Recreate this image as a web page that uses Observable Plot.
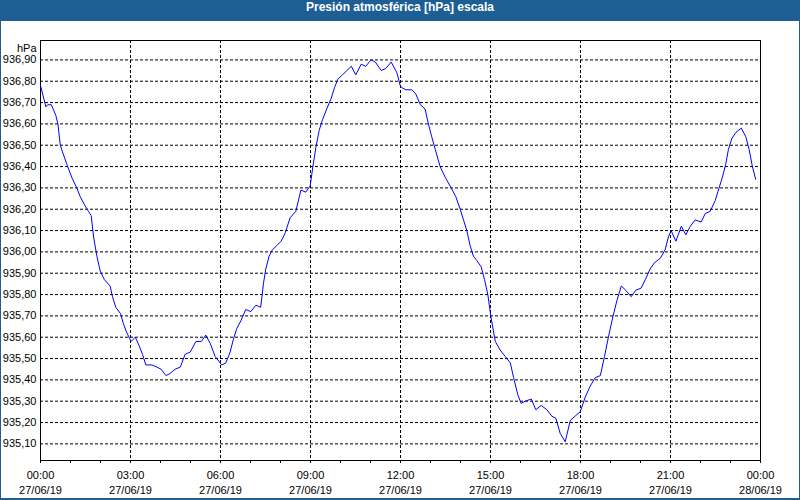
<!DOCTYPE html>
<html><head><meta charset="utf-8">
<script src="https://cdn.jsdelivr.net/npm/d3@7"></script>
<script src="https://cdn.jsdelivr.net/npm/@observablehq/plot@0.6"></script>
<style>
body{margin:0;background:#fff;}
#wrap{position:relative;width:800px;height:500px;overflow:hidden;background:#fff;}
#title{height:21px;line-height:21px;background:#1d5e95;color:#fff;font:bold 12px "Liberation Sans",sans-serif;text-align:center;}
#border{position:absolute;left:0;top:0;width:798px;height:498px;border-left:1px solid #1d5e95;border-right:1px solid #1d5e95;border-bottom:2px solid #1d5e95;pointer-events:none;}
#chart{position:absolute;left:0;top:21px;}
</style></head>
<body>
<div id="wrap">
<div id="title">Presión atmosférica [hPa] escala</div>
<div id="chart"></div>
<div id="border"></div>
</div>
<script>
const title = "Presión atmosférica [hPa] escala";
const unitLabel = "hPa";
// hours since 00:00 27/06/19
const hours = [
0, 0.18, 0.24, 0.36, 0.51, 0.58, 0.66, 0.73, 0.88, 1.04,
1.21, 1.32, 1.47, 1.6, 1.69, 1.77, 1.88, 1.99, 2.13, 2.32,
2.4, 2.51, 2.67, 2.77, 2.88, 3.02, 3.16, 3.29, 3.4, 3.51,
3.71, 3.88, 4.02, 4.18, 4.32, 4.49, 4.66, 4.82, 4.99, 5.18,
5.36, 5.51, 5.66, 5.82, 6.04, 6.18, 6.32, 6.43, 6.54, 6.69,
6.84, 7.01, 7.18, 7.34, 7.43, 7.51, 7.62, 7.73, 7.88, 8.02,
8.16, 8.32, 8.51, 8.68, 8.84, 8.99, 9.08, 9.18, 9.29, 9.4,
9.54, 9.69, 9.8, 9.91, 10.07, 10.21, 10.36, 10.51, 10.69, 10.84,
11.02, 11.16, 11.36, 11.51, 11.69, 11.88, 11.99, 12.04, 12.18, 12.38,
12.51, 12.66, 12.82, 12.93, 13.04, 13.16, 13.32, 13.49, 13.69, 13.84,
13.99, 14.1, 14.21, 14.32, 14.43, 14.54, 14.69, 14.8, 14.91, 15.02,
15.16, 15.32, 15.49, 15.66, 15.77, 15.91, 16.02, 16.16, 16.36, 16.51,
16.69, 16.88, 17.04, 17.18, 17.32, 17.49, 17.66, 17.82, 17.99, 18.16,
18.32, 18.49, 18.66, 18.8, 18.93, 19.07, 19.21, 19.36, 19.51, 19.69,
19.84, 20.02, 20.16, 20.32, 20.47, 20.66, 20.82, 20.93, 21.02, 21.18,
21.36, 21.51, 21.66, 21.82, 22.02, 22.16, 22.32, 22.49, 22.62, 22.73,
22.84, 22.93, 23.04, 23.18, 23.36, 23.51, 23.62, 23.73, 23.84
];
const pressure = [
936.78, 936.68, 936.69, 936.69, 936.64, 936.60, 936.50, 936.47, 936.41, 936.35,
936.30, 936.26, 936.22, 936.19, 936.17, 936.07, 935.98, 935.91, 935.87, 935.84,
935.79, 935.74, 935.71, 935.66, 935.62, 935.58, 935.60, 935.56, 935.52, 935.47,
935.47, 935.46, 935.45, 935.42, 935.43, 935.45, 935.46, 935.52, 935.53, 935.58,
935.58, 935.61, 935.57, 935.51, 935.47, 935.48, 935.53, 935.59, 935.64, 935.68,
935.73, 935.72, 935.75, 935.74, 935.85, 935.92, 935.98, 936.01, 936.03, 936.05,
936.09, 936.16, 936.19, 936.29, 936.28, 936.31, 936.40, 936.49, 936.57, 936.62,
936.67, 936.72, 936.77, 936.81, 936.83, 936.85, 936.87, 936.83, 936.88, 936.87,
936.90, 936.89, 936.85, 936.86, 936.89, 936.84, 936.78, 936.77, 936.76, 936.76,
936.74, 936.69, 936.67, 936.60, 936.54, 936.48, 936.40, 936.35, 936.30, 936.26,
936.20, 936.15, 936.10, 936.03, 935.98, 935.96, 935.93, 935.87, 935.80, 935.69,
935.58, 935.54, 935.51, 935.48, 935.41, 935.33, 935.29, 935.30, 935.31, 935.26,
935.28, 935.26, 935.23, 935.22, 935.15, 935.11, 935.21, 935.23, 935.25, 935.32,
935.37, 935.41, 935.42, 935.51, 935.60, 935.69, 935.77, 935.84, 935.82, 935.79,
935.82, 935.83, 935.87, 935.92, 935.95, 935.97, 936.01, 936.07, 936.10, 936.05,
936.12, 936.08, 936.12, 936.15, 936.14, 936.18, 936.19, 936.24, 936.30, 936.35,
936.41, 936.48, 936.53, 936.56, 936.58, 936.54, 936.48, 936.40, 936.34
];
const yTicks = [935.1, 935.2, 935.3, 935.4, 935.5, 935.6, 935.7, 935.8, 935.9, 936.0, 936.1, 936.2, 936.3, 936.4, 936.5, 936.6, 936.7, 936.8, 936.9];
const xTickHours = [0, 3, 6, 9, 12, 15, 18, 21, 24];
const xTickLabels = ["00:00\n27/06/19", "03:00\n27/06/19", "06:00\n27/06/19", "09:00\n27/06/19", "12:00\n27/06/19", "15:00\n27/06/19", "18:00\n27/06/19", "21:00\n27/06/19", "00:00\n28/06/19"];
const xGridHours = [3, 6, 9, 12, 15, 18, 21];
const xMinorHours = d3.range(0, 25);

const data = hours.map((h, i) => ({h, p: pressure[i]}));
const labelOf = new Map(xTickHours.map((h, i) => [h, xTickLabels[i]]));

const plot = Plot.plot({
  width: 800,
  height: 479,
  marginTop: 19,
  marginBottom: 40,
  marginLeft: 40,
  marginRight: 40,
  style: {fontFamily: "Liberation Sans, sans-serif", fontSize: "11px", color: "black", background: "white"},
  x: {type: "linear", domain: [0, 24]},
  y: {domain: [935.022, 936.991]},
  marks: [
    Plot.gridY(yTicks, {stroke: "black", strokeOpacity: 1, strokeDasharray: "3,2"}),
    Plot.gridX(xGridHours, {stroke: "black", strokeOpacity: 1, strokeDasharray: "3,2"}),
    Plot.frame({stroke: "black"}),
    Plot.axisY(yTicks, {tickSize: 0, tickPadding: 4, label: null, tickFormat: d => d.toFixed(2).replace(".", ",")}),
    Plot.axisX(xMinorHours, {tickSize: 3, tickFormat: () => "", label: null}),
    Plot.axisX(xTickHours, {tickSize: 0, tickPadding: 8, label: null, lineHeight: 1.36, tickFormat: d => labelOf.get(d)}),
    Plot.text([unitLabel], {frameAnchor: "top-left", textAnchor: "end", dx: -4, dy: 4, text: d => d}),
    Plot.line(data, {x: "h", y: "p", stroke: "#0000ff", strokeWidth: 1})
  ]
});
document.getElementById("chart").appendChild(plot);
</script>
</body></html>
